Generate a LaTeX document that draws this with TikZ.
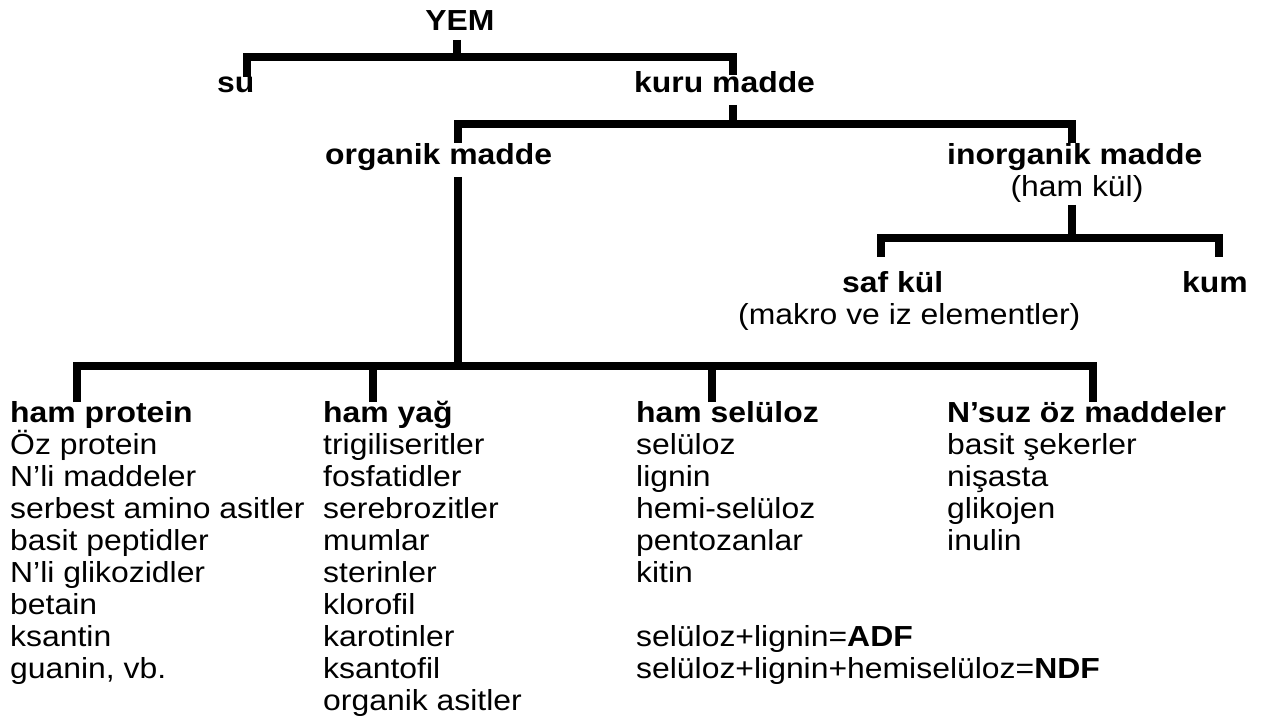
\documentclass[tikz,border=0pt]{standalone}
\usepackage{fontspec}
\setmainfont{Liberation Sans}[FakeStretch=1.1]
\usetikzlibrary{calc,positioning}

\tikzset{
  lbl/.style={inner sep=0pt,anchor=base west,font=\fontsize{29}{32}\selectfont},
  head/.style={lbl,font=\fontsize{29}{32}\selectfont\bfseries},
  tree/.style={line width=7.5pt},
}

\begin{document}
\begin{tikzpicture}[x=1pt,y=-1pt]
\useasboundingbox (0,0) rectangle (1262,722);
% --- top levels ---
\node[head,anchor=base] (yem) at (460,31) {YEM};
\node[head] (su) at (217,93) {su};
\node[head] (kuru) at (634,93) {kuru madde};
\node[head] (org) at (325,165) {organik madde};
\node[head] (inorg) at (947,165) {inorganik madde};
\node[lbl,anchor=base] (hamkul) at (1077,197) {(ham kül)};
\node[head] (saf) at (842,293) {saf kül};
\node[lbl] (makro) at (738,325) {(makro ve iz elementler)};
\node[head] (kum) at (1182,293) {kum};

% --- groups of organik madde ---
\node[head] (prot) at (10,422) {ham protein};
\node[head] (yag) at (323,422) {ham yağ};
\node[head] (sel) at (636,422) {ham selüloz};
\node[head] (nsuz) at (947,422) {N’suz öz maddeler};
\foreach \t [count=\i] in {Öz protein,N’li maddeler,serbest amino asitler,
  basit peptidler,N’li glikozidler,betain,ksantin,{guanin, vb.}}
  \node[lbl] (prot-\i) at (10,{422+32*\i}) {\t};
\foreach \t [count=\i] in {trigiliseritler,fosfatidler,serebrozitler,mumlar,
  sterinler,klorofil,karotinler,ksantofil,organik asitler}
  \node[lbl] (yag-\i) at (323,{422+32*\i}) {\t};
\foreach \t [count=\i] in {selüloz,lignin,hemi-selüloz,pentozanlar,kitin}
  \node[lbl] (sel-\i) at (636,{422+32*\i}) {\t};
\foreach \t [count=\i] in {basit şekerler,nişasta,glikojen,inulin}
  \node[lbl] (nsuz-\i) at (947,{422+32*\i}) {\t};
\node[lbl] (adf) at (636,646) {selüloz+lignin=\textbf{ADF}};
\node[lbl] (ndf) at (636,678) {selüloz+lignin+hemiselüloz=\textbf{NDF}};

% --- brackets ---
\draw[tree] ($(yem.base)+(-3,9)$) -- ++(0,17) coordinate (j-yem);
\draw[tree] ($(su.base west)+(30,-16)$) |- (j-yem) -| ($(kuru.base west)+(99,-18)$);
\draw[tree] ($(kuru.base west)+(99,12)$) -- ++(0,19) coordinate (j-kuru);
\draw[tree] ($(org.base west)+(133,-22)$) |- (j-kuru) -| ($(inorg.base west)+(125,-22)$);
\draw[tree] ($(hamkul.base)+(-5,8)$) -- ++(0,33) coordinate (j-inorg);
\draw[tree] ($(saf.base west)+(39,-36)$) |- (j-inorg) -| ($(kum.base west)+(37,-36)$);
\draw[tree] ($(org.base west)+(133,12)$) -- ++(0,189) coordinate (j-org);
\draw[tree] ($(prot.base west)+(67,-20)$) |- (j-org) -| ($(nsuz.base west)+(146,-20)$);
\draw[tree] ($(yag.base west)+(50,-20)$) |- (j-org);
\draw[tree] ($(sel.base west)+(76,-20)$) |- (j-org);
\end{tikzpicture}
\end{document}
